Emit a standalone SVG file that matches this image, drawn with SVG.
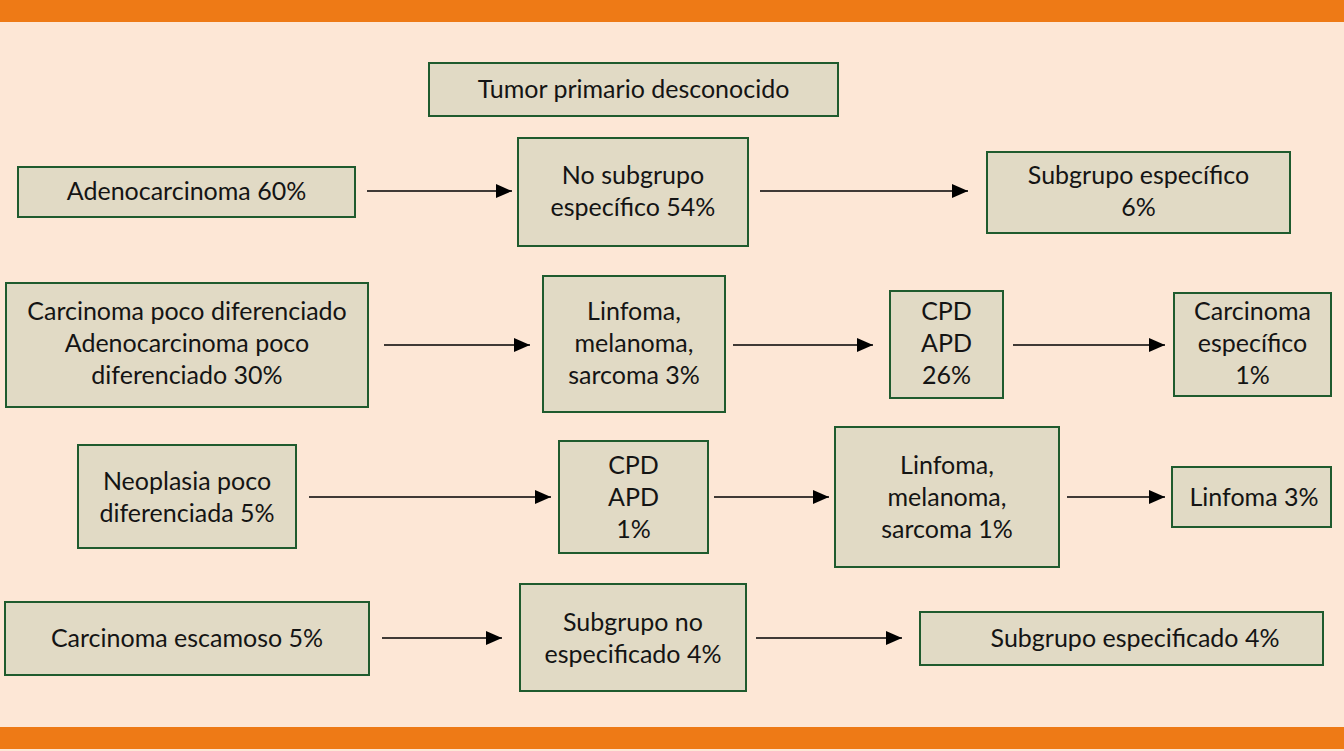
<svg xmlns="http://www.w3.org/2000/svg" width="1344" height="751" viewBox="0 0 1344 751">
<defs>
<marker id="ah" markerWidth="16" markerHeight="14" refX="16" refY="7" orient="auto" markerUnits="userSpaceOnUse">
<path d="M0,0 L16,7 L0,14 Z" fill="#000"/>
</marker>
<style>
.box{fill:#E1DAC5;stroke:#1F5B2E;stroke-width:2}
.t{font-family:Lato,"Open Sans","Liberation Sans",sans-serif;font-size:25px;font-weight:400;fill:#141414;text-anchor:middle}
.c{stroke:#000;stroke-width:1.6;fill:none;marker-end:url(#ah)}
</style>
</defs>
<rect x="0" y="0" width="1344" height="751" fill="#FDE7D6"/>
<rect x="0" y="0" width="1344" height="22" fill="#EE7A16"/>
<rect x="0" y="727" width="1344" height="22" fill="#EE7A16"/>

<g id="connectors">
<line class="c" x1="367" y1="191" x2="512" y2="191"/>
<line class="c" x1="760" y1="191" x2="968" y2="191"/>
<line class="c" x1="384" y1="345" x2="530" y2="345"/>
<line class="c" x1="733" y1="345" x2="873" y2="345"/>
<line class="c" x1="1013" y1="345" x2="1165" y2="345"/>
<line class="c" x1="309" y1="497" x2="551" y2="497"/>
<line class="c" x1="714" y1="497" x2="829" y2="497"/>
<line class="c" x1="1067" y1="497" x2="1165" y2="497"/>
<line class="c" x1="382" y1="638" x2="502" y2="638"/>
<line class="c" x1="756" y1="638" x2="902" y2="638"/>
</g>

<g id="n-tumor"><rect class="box" x="429" y="63" width="409" height="53"/><text class="t" x="633.5" y="98">Tumor primario desconocido</text></g>
<g id="n-adeno"><rect class="box" x="18" y="167" width="337" height="50"/><text class="t" x="186.5" y="200">Adenocarcinoma 60%</text></g>
<g id="n-nosub"><rect class="box" x="518" y="138" width="230" height="108"/><text class="t" x="633" y="184">No subgrupo</text><text class="t" x="633" y="216">específico 54%</text></g>
<g id="n-subesp"><rect class="box" x="987" y="152" width="303" height="81"/><text class="t" x="1138.5" y="184">Subgrupo específico</text><text class="t" x="1138.5" y="216">6%</text></g>

<g id="n-cpd"><rect class="box" x="6" y="283" width="362" height="124"/><text class="t" x="187" y="320">Carcinoma poco diferenciado</text><text class="t" x="187" y="352">Adenocarcinoma poco</text><text class="t" x="187" y="384">diferenciado 30%</text></g>
<g id="n-linf3"><rect class="box" x="543" y="276" width="182" height="136"/><text class="t" x="634" y="320">Linfoma,</text><text class="t" x="634" y="352">melanoma,</text><text class="t" x="634" y="384">sarcoma 3%</text></g>
<g id="n-cpdapd26"><rect class="box" x="890" y="291" width="113" height="107"/><text class="t" x="946.5" y="320">CPD</text><text class="t" x="946.5" y="352">APD</text><text class="t" x="946.5" y="384">26%</text></g>
<g id="n-carcesp"><rect class="box" x="1174" y="293" width="157" height="103"/><text class="t" x="1252.5" y="320">Carcinoma</text><text class="t" x="1252.5" y="352">específico</text><text class="t" x="1252.5" y="384">1%</text></g>

<g id="n-neo"><rect class="box" x="78" y="445" width="218" height="103"/><text class="t" x="187" y="490">Neoplasia poco</text><text class="t" x="187" y="522">diferenciada 5%</text></g>
<g id="n-cpdapd1"><rect class="box" x="559" y="441" width="149" height="112"/><text class="t" x="633.5" y="474">CPD</text><text class="t" x="633.5" y="506">APD</text><text class="t" x="633.5" y="538">1%</text></g>
<g id="n-linf1"><rect class="box" x="835" y="427" width="224" height="140"/><text class="t" x="947" y="474">Linfoma,</text><text class="t" x="947" y="506">melanoma,</text><text class="t" x="947" y="538">sarcoma 1%</text></g>
<g id="n-linfoma3"><rect class="box" x="1172" y="467" width="159" height="60"/><text class="t" x="1254" y="506">Linfoma 3%</text></g>

<g id="n-escam"><rect class="box" x="5" y="602" width="364" height="73"/><text class="t" x="187" y="647">Carcinoma escamoso 5%</text></g>
<g id="n-subnoesp"><rect class="box" x="520" y="584" width="226" height="107"/><text class="t" x="633" y="631">Subgrupo no</text><text class="t" x="633" y="663">especificado 4%</text></g>
<g id="n-subespec"><rect class="box" x="920" y="612" width="403" height="53"/><text class="t" x="1135" y="647">Subgrupo especificado 4%</text></g>
</svg>
